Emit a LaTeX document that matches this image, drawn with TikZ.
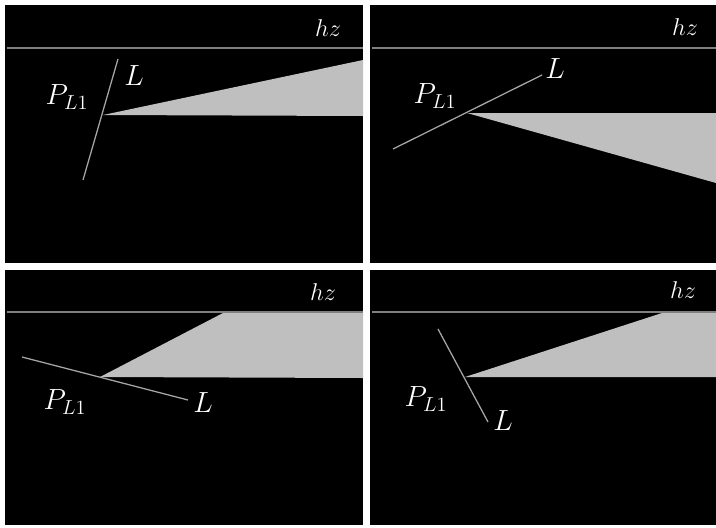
\documentclass[tikz,border=0pt]{standalone}
\usepackage{tikz}
\colorlet{wedgefill}{black!25}
\colorlet{linegray}{black!50}
\newcommand{\plone}{$P_{\mbox{\fontsize{15}{15}\selectfont$L1$}}$}

\begin{document}
\begin{tikzpicture}[x=0.025cm, y=-0.025cm,
      panel/.style   = {fill=black},
      horizon/.style = {draw=linegray, line width=1.4pt},
      wedge/.style   = {fill=wedgefill},
      lline/.style   = {draw=black!35, line width=0.9pt},
      lbl/.style     = {text=white, inner sep=0pt,
                        font=\fontsize{20}{22}\selectfont},
      hzlbl/.style   = {text=white, inner sep=0pt,
                        font=\fontsize{18}{20}\selectfont}
    ]

    \useasboundingbox[fill=white] (0,0) rectangle (716,527);

    % top left
    \fill[panel] (5,5) rectangle (363,263);
    \draw[horizon] (7,48) -- (363,48);
    \coordinate (p1) at (103,115);
    \fill[wedge] (p1) -- (363,60) -- (363,116) -- cycle;
    \coordinate (la1) at (118,59);
    \coordinate (lb1) at (83,180);
    \draw[lline] (la1) -- (lb1);
    \node[hzlbl] (hz1) at (328,28) {$hz$};
    \node[lbl] (pl1) at (67,97)    {\plone};
    \node[lbl] (l1)  at (134,76)   {$L$};

    % top right
    \fill[panel] (370,5) rectangle (716,263);
    \draw[horizon] (372,48) -- (716,48);
    \coordinate (p2) at (467,113);
    \fill[wedge] (p2) -- (716,113) -- (716,183) -- cycle;
    \coordinate (la2) at (542,75);
    \coordinate (lb2) at (393,149);
    \draw[lline] (la2) -- (lb2);
    \node[hzlbl] (hz2) at (685,27) {$hz$};
    \node[lbl] (pl2) at (435,96)   {\plone};
    \node[lbl] (l2)  at (555,69)   {$L$};

    % bottom left
    \fill[panel] (5,270) rectangle (363,525);
    \draw[horizon] (7,312) -- (363,312);
    \coordinate (p3) at (100,377);
    \fill[wedge] (p3) -- (223,313) -- (363,313) -- (363,378) -- cycle;
    \coordinate (la3) at (22,357);
    \coordinate (lb3) at (188,400);
    \draw[lline] (la3) -- (lb3);
    \node[hzlbl] (hz3) at (323,292) {$hz$};
    \node[lbl] (pl3) at (65,402)    {\plone};
    \node[lbl] (l3)  at (203,403)   {$L$};

    % bottom right
    \fill[panel] (370,270) rectangle (716,525);
    \draw[horizon] (372,312) -- (716,312);
    \coordinate (p4) at (465,377);
    \fill[wedge] (p4) -- (662,313) -- (716,313) -- (716,377) -- cycle;
    \coordinate (la4) at (438,329);
    \coordinate (lb4) at (488,422);
    \draw[lline] (la4) -- (lb4);
    \node[hzlbl] (hz4) at (683,290) {$hz$};
    \node[lbl] (pl4) at (426,399)   {\plone};
    \node[lbl] (l4)  at (503,421)   {$L$};
  \end{tikzpicture}
\end{document}
